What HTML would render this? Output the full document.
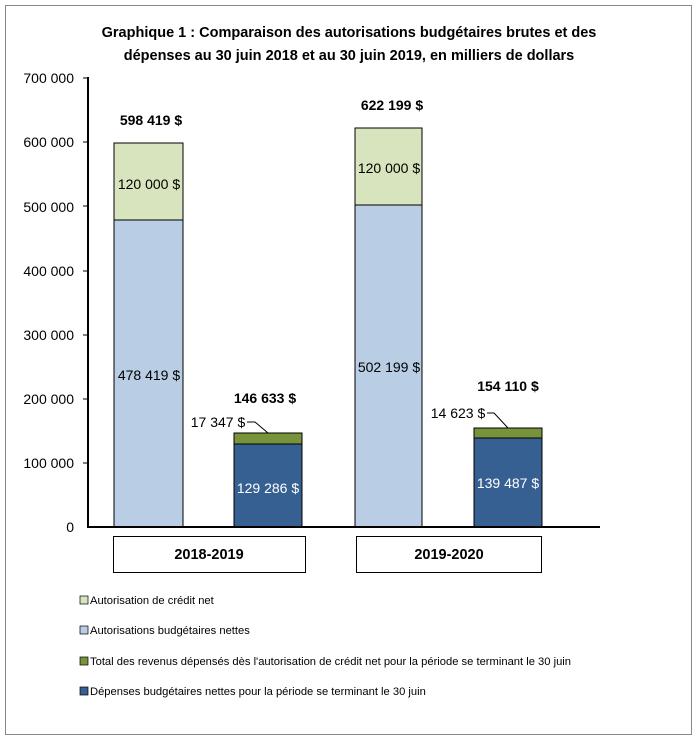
<!DOCTYPE html>
<html><head><meta charset="utf-8"><style>
body{margin:0;background:#fff}
svg text{font-family:"Liberation Sans",Calibri,sans-serif}
</style></head><body>
<svg width="698" height="740" xmlns="http://www.w3.org/2000/svg">
<rect x="5.5" y="5.5" width="686" height="729" fill="#fff" stroke="#888" stroke-width="1"/>
<text x="349" y="37" font-size="14.5" font-weight="bold" text-anchor="middle">Graphique 1 : Comparaison des autorisations budgétaires brutes et des</text>
<text x="349" y="60" font-size="14.5" font-weight="bold" text-anchor="middle">dépenses au 30 juin 2018 et au 30 juin 2019, en milliers de dollars</text>
<g font-size="14" text-anchor="end">
<text x="74" y="532">0</text>
<text x="74" y="468">100 000</text>
<text x="74" y="404">200 000</text>
<text x="74" y="340">300 000</text>
<text x="74" y="276">400 000</text>
<text x="74" y="212">500 000</text>
<text x="74" y="147">600 000</text>
<text x="74" y="83">700 000</text>
</g>
<g stroke="#000" stroke-width="1">
<line x1="83" y1="463" x2="88" y2="463"/><line x1="83" y1="399" x2="88" y2="399"/>
<line x1="83" y1="335" x2="88" y2="335"/><line x1="83" y1="271" x2="88" y2="271"/>
<line x1="83" y1="206" x2="88" y2="206"/><line x1="83" y1="142" x2="88" y2="142"/>
<line x1="83" y1="78" x2="88" y2="78"/>
</g>
<g stroke="#000" stroke-width="1">
<rect x="114" y="220" width="69" height="307" fill="#b9cde5"/>
<rect x="114" y="143" width="69" height="77" fill="#d7e4bd"/>
<rect x="234" y="444" width="68" height="83" fill="#376092"/>
<rect x="234" y="433" width="68" height="11" fill="#77933c"/>
<rect x="355" y="205" width="67" height="322" fill="#b9cde5"/>
<rect x="355" y="128" width="67" height="77" fill="#d7e4bd"/>
<rect x="474" y="438" width="68" height="89" fill="#376092"/>
<rect x="474" y="428" width="68" height="10" fill="#77933c"/>
</g>
<line x1="88" y1="77" x2="88" y2="528" stroke="#000" stroke-width="2"/>
<line x1="87" y1="527" x2="600" y2="527" stroke="#000" stroke-width="2"/>
<g font-size="14" text-anchor="middle">
<text x="149" y="189">120 000 $</text>
<text x="149" y="380">478 419 $</text>
<text x="389" y="173">120 000 $</text>
<text x="389" y="372">502 199 $</text>
<text x="268" y="493" fill="#fff">129 286 $</text>
<text x="508" y="488" fill="#fff">139 487 $</text>
<text x="218" y="427">17 347 $</text>
<text x="458" y="418">14 623 $</text>
</g>
<polyline points="247,422 255,422 268,433" fill="none" stroke="#000"/>
<polyline points="487,413 494,413 508,428" fill="none" stroke="#000"/>
<g font-size="14" font-weight="bold" text-anchor="middle">
<text x="151" y="125">598 419 $</text>
<text x="265" y="403">146 633 $</text>
<text x="392" y="110">622 199 $</text>
<text x="508" y="391">154 110 $</text>
</g>
<rect x="113.5" y="536.5" width="192" height="36" fill="#fff" stroke="#000"/>
<rect x="356.5" y="536.5" width="185" height="36" fill="#fff" stroke="#000"/>
<g font-size="14.5" font-weight="bold" text-anchor="middle">
<text x="209" y="559">2018-2019</text>
<text x="449" y="559">2019-2020</text>
</g>
<g stroke="#000" stroke-width="0.7">
<rect x="80" y="596" width="8" height="8" fill="#d7e4bd"/>
<rect x="80" y="626" width="8" height="8" fill="#b9cde5"/>
<rect x="80" y="657" width="8" height="8" fill="#77933c"/>
<rect x="80" y="687" width="8" height="8" fill="#376092"/>
</g>
<g font-size="11.2">
<text x="90" y="604">Autorisation de crédit net</text>
<text x="90" y="634">Autorisations budgétaires nettes</text>
<text x="90" y="665">Total des revenus dépensés dès l'autorisation de crédit net pour la période se terminant le 30 juin</text>
<text x="90" y="695">Dépenses budgétaires nettes pour la période se terminant le 30 juin</text>
</g>
</svg>
</body></html>
